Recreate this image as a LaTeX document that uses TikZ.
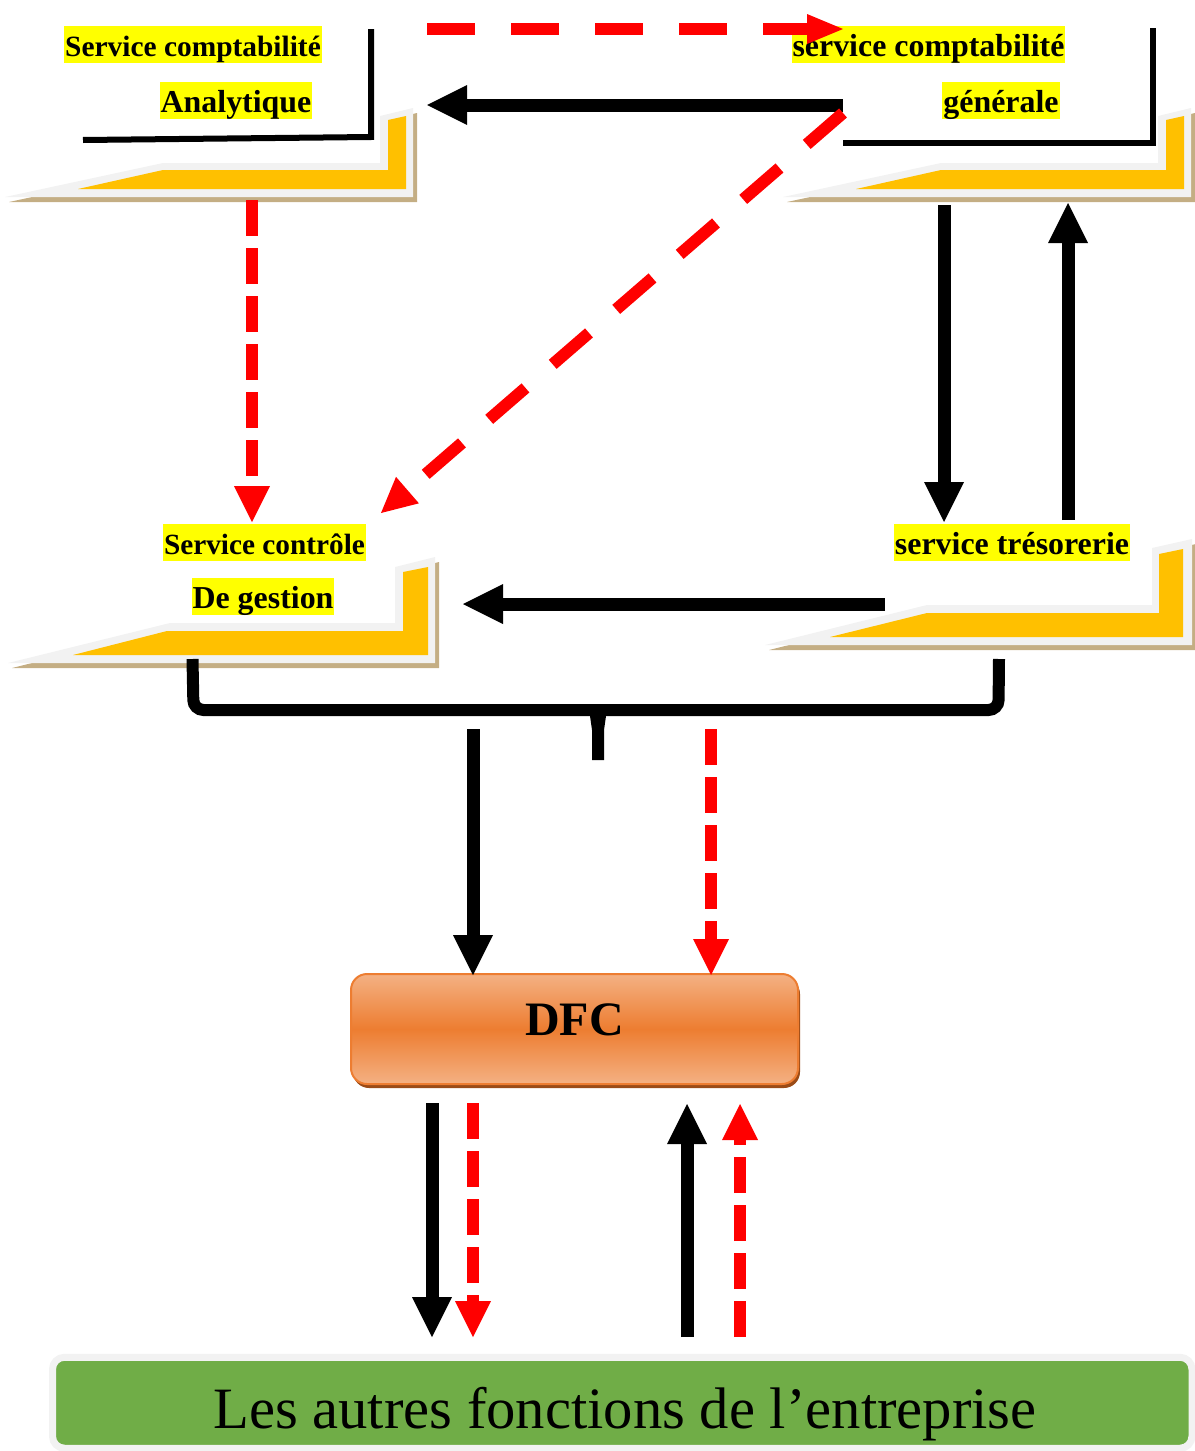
\documentclass[tikz,border=0pt]{standalone}
\usepackage{fontspec}
\setmainfont{Liberation Serif}
\usetikzlibrary{arrows.meta,shadows}

\definecolor{trayorange}{HTML}{FFC000}
\definecolor{traygrey}{HTML}{F2F2F2}
\definecolor{traytan}{HTML}{C4AE84}
\definecolor{hlyellow}{HTML}{FFFF00}
\definecolor{dfclight}{HTML}{F4B183}
\definecolor{dfcmid}{HTML}{ED7D31}
\definecolor{dfcshadow}{HTML}{9A4B17}
\definecolor{greenbox}{HTML}{70AD47}
\definecolor{arrowred}{HTML}{FF0000}

% tray: tan shadow, light grey rim, orange inside
\newcommand\traydraw[2]{%
  \fill[traytan, shift={(4,5)}] #1;
  \fill[traygrey] #1;
  \fill[trayorange] #2;}

\tikzset{
  hlabel/.style={fill=hlyellow, inner xsep=1pt, inner ysep=0pt,
    text height=30pt, text depth=7pt, anchor=base,
    font=\fontsize{#1}{37}\selectfont\bfseries},
  hlabel/.default=31.9,
  blkarrow/.style={line width=13pt, black,
    -{Triangle[length=40pt, width=40pt, line width=0pt]}},
  redlong/.style={line width=12pt, arrowred, dash pattern=on 48pt off 36pt,
    -{Triangle[length=36pt, width=30pt, line width=0pt]}},
  reddiag/.style={line width=12pt, arrowred, dash pattern=on 48pt off 36pt,
    -{Triangle[length=35pt, width=35pt, line width=0pt]}},
  redshort/.style={line width=12pt, arrowred, dash pattern=on 36pt off 12pt,
    -{Triangle[length=36pt, width=36pt, line width=0pt]}},
  frameline/.style={line width=6pt, black},
}

\begin{document}
\begin{tikzpicture}[x=1pt, y=-1pt]
\useasboundingbox (0,0) rectangle (1194,1451);

% ---- trays ----
\traydraw{(5,197)--(163,163)--(380,163)--(380,116)--(413,108)--(413,197)--cycle}
         {(78,189)--(163,170)--(388,170)--(388,120)--(406,116)--(406,189)--cycle}
\traydraw{(783,197)--(941,163)--(1158,163)--(1158,116)--(1191,108)--(1191,197)--cycle}
         {(856,189)--(941,170)--(1166,170)--(1166,120)--(1184,116)--(1184,189)--cycle}
\traydraw{(8,663)--(170,623)--(395,623)--(395,567)--(435,557)--(435,663)--cycle}
         {(73,655)--(167,631)--(403,631)--(403,572)--(428,567)--(428,655)--cycle}
\traydraw{(765,645)--(927,605)--(1152,605)--(1152,548)--(1192,539)--(1192,645)--cycle}
         {(830,637)--(927,613)--(1159,613)--(1159,554)--(1183,549)--(1183,637)--cycle}

% ---- frame lines of the two upper services ----
\draw[frameline] (83,140) -- (371,137) -- (371,29);
\draw[frameline] (843,143) -- (1153,143) -- (1153,28);

% ---- labels ----
\node[hlabel=29.4] (sca)  at (193,56)   {Service comptabilité};
\node[hlabel]      (scb)  at (236,112)  {Analytique};
\node[hlabel]      (sga)  at (928.5,56) {service comptabilité};
\node[hlabel]      (sgb)  at (1001,112) {générale};
\node[hlabel=29.3] (scga) at (264.5,554) {Service contrôle};
\node[hlabel]      (scgb) at (263,608)  {De gestion};
\node[hlabel]      (str)  at (1012,554) {service trésorerie};

% ---- DFC ----
\node[draw=dfcmid, line width=2pt, rounded corners=16pt,
      top color=dfclight, bottom color=dfclight, middle color=dfcmid,
      general shadow={fill=dfcshadow, shadow xshift=2pt, shadow yshift=-4pt},
      minimum width=447pt, minimum height=110pt, inner sep=0pt,
      text height=32pt, text depth=20pt,
      font=\fontsize{48}{58}\selectfont\bfseries] (dfc) at (574.5,1029) {DFC};

% ---- other functions ----
\node[draw=traygrey, line width=7pt, fill=greenbox, rounded corners=12pt,
      minimum width=1139.5pt, minimum height=91pt, inner sep=0pt,
      text height=50.5pt, text depth=0pt,
      font=\fontsize{58.6}{70}\selectfont] (autres) at (622.25,1402.75)
      {\hspace*{5.5pt}Les autres fonctions de l’entreprise};

% ---- connector end points ----
\coordinate (ga) at (427,29);   \coordinate (gb) at (843,29);
\coordinate (ha) at (843,105);  \coordinate (hb) at (427,105);
\coordinate (da) at (843,113);  \coordinate (db) at (381,513);
\coordinate (va) at (252,200);  \coordinate (vb) at (252,522);
\coordinate (ta) at (944,205);  \coordinate (tb) at (944,522);
\coordinate (ua) at (1068,520); \coordinate (ub) at (1068,203);
\coordinate (wa) at (885,604);  \coordinate (wb) at (463,604);
\coordinate (ka) at (473,729);  \coordinate (kb) at (473,975);
\coordinate (ra) at (711,729);  \coordinate (rb) at (711,975);
\coordinate (oa) at (432,1103); \coordinate (ob) at (432,1337);
\coordinate (pa) at (473,1103); \coordinate (pb) at (473,1337);
\coordinate (qa) at (687,1337); \coordinate (qb) at (687,1104);
\coordinate (sa) at (740,1337); \coordinate (sb) at (740,1104);
\coordinate (bl) at (192.5,659); \coordinate (br) at (999,659);

% ---- brace joining the two lower services ----
\draw[line width=12pt, black, rounded corners=10pt]
  (bl) -- (193.5,710) -- (998.5,710) -- (br);
\fill[black] (588,704) -- (607,704) -- (606,716) -- (604,730) -- (604,760)
  -- (592,760) -- (592,730) -- (590,716) -- cycle;

% ---- flows ----
\draw[redlong]  (ga) -- (gb);
\draw[blkarrow] (ha) -- (hb);
\draw[reddiag]  (da) -- (db);
\draw[redshort] (va) -- (vb);
\draw[blkarrow] (ta) -- (tb);
\draw[blkarrow] (ua) -- (ub);
\draw[blkarrow] (wa) -- (wb);
\draw[blkarrow] (ka) -- (kb);
\draw[redshort] (ra) -- (rb);
\draw[blkarrow] (oa) -- (ob);
\draw[redshort] (pa) -- (pb);
\draw[blkarrow] (qa) -- (qb);
\draw[redshort] (sa) -- (sb);
\end{tikzpicture}
\end{document}
